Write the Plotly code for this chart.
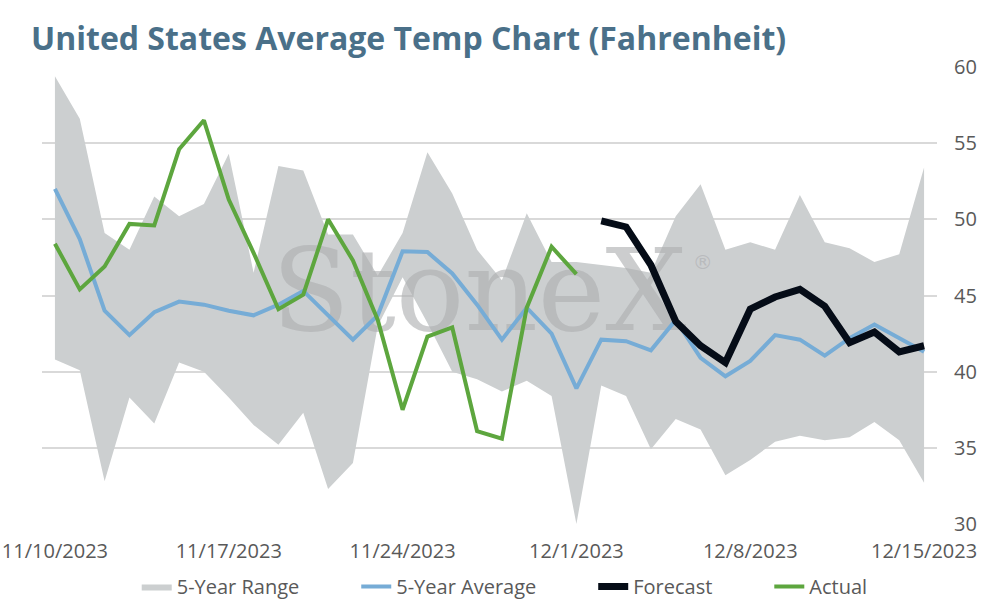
import pandas as pd
import plotly.graph_objects as go

# daily values, 11/10/2023 .. 12/15/2023
dates = pd.date_range("2023-11-10", "2023-12-15", freq="D")

range_high = [59.4, 56.6, 49.1, 48.0, 51.5, 50.2, 51.0, 54.3, 46.5, 53.5,
              53.2, 49.0, 49.0, 46.3, 49.1, 54.4, 51.7, 48.0, 46.0, 50.4,
              47.2, 47.2, 47.0, 46.8, 46.5, 50.2, 52.3, 48.0, 48.5, 48.0,
              51.6, 48.5, 48.1, 47.2, 47.7, 53.4]
range_low = [40.8, 40.1, 32.8, 38.3, 36.6, 40.6, 40.0, 38.3, 36.5, 35.2,
             37.3, 32.3, 34.0, 43.0, 46.2, 43.2, 40.0, 39.5, 38.7, 39.4,
             38.4, 30.0, 39.1, 38.4, 34.9, 36.9, 36.2, 33.2, 34.2, 35.4,
             35.8, 35.5, 35.7, 36.7, 35.5, 32.7]
five_yr_avg = [52.0, 48.7, 44.0, 42.4, 43.9, 44.6, 44.4, 44.0, 43.7, 44.4,
               45.3, 43.7, 42.1, 43.7, 47.9, 47.85, 46.45, 44.4, 42.1, 44.2,
               42.5, 38.9, 42.1, 42.0, 41.4, 43.4, 40.9, 39.7, 40.7, 42.4,
               42.1, 41.05, 42.2, 43.1, 42.2, 41.3]
actual = [48.4, 45.4, 46.9, 49.7, 49.6, 54.6, 56.5, 51.3, 47.8, 44.1,
          45.05, 50.0, 47.3, 43.4, 37.5, 42.3, 42.9, 36.1, 35.6, 44.2,
          48.2, 46.4]
forecast = [49.9, 49.5, 47.0, 43.3, 41.7, 40.6, 44.1, 44.9, 45.4, 44.3,
            41.9, 42.6, 41.3, 41.7]

tick_dates = ["2023-11-10", "2023-11-17", "2023-11-24", "2023-12-01",
              "2023-12-08", "2023-12-15"]
tick_text = ["11/10/2023", "11/17/2023", "11/24/2023", "12/1/2023",
             "12/8/2023", "12/15/2023"]

PAD = "\u00a0" * 10
WM_COLOR = "rgba(172,174,176,0.62)"


def main():
    fig = go.Figure()
    fig.add_trace(go.Scatter(x=dates, y=range_low, mode="lines",
                             line=dict(width=0, color="#cccfd0"),
                             showlegend=False, hoverinfo="skip"))
    fig.add_trace(go.Scatter(x=dates, y=range_high, mode="lines", fill="tonexty",
                             fillcolor="#cccfd0", line=dict(width=0, color="#cccfd0"),
                             name="5-Year Range" + PAD))
    # watermark, sits between the range fill and the lines
    fig.add_trace(go.Scatter(x=["2023-11-27 02:00"], y=[44.6], mode="text",
                             text=["StoneX"], showlegend=False, hoverinfo="skip",
                             textfont=dict(family="DejaVu Serif", size=114, color=WM_COLOR)))
    fig.add_trace(go.Scatter(x=["2023-12-06 02:00"], y=[47.1], mode="text",
                             text=["®"], showlegend=False, hoverinfo="skip",
                             textfont=dict(family="DejaVu Sans", size=20, color=WM_COLOR)))
    fig.add_trace(go.Scatter(x=dates, y=five_yr_avg, mode="lines",
                             line=dict(width=4, color="#76acd6"), name="5-Year Average" + PAD))
    fig.add_trace(go.Scatter(x=dates[len(dates) - len(forecast):], y=forecast, mode="lines",
                             line=dict(width=7, color="#050c17"), name="Forecast" + PAD))
    fig.add_trace(go.Scatter(x=dates[:len(actual)], y=actual, mode="lines",
                             line=dict(width=4, color="#5da63e"), name="Actual"))

    fig.update_layout(
        width=994, height=606,
        template="plotly_white",
        plot_bgcolor="white",
        margin=dict(l=42, r=57, t=67, b=82),
        title=dict(text="<b>United States Average Temp Chart (Fahrenheit)</b>",
                   x=31 / 994, xanchor="left", y=0.936, yanchor="middle",
                   font=dict(family="Open Sans", size=32, color="#4a7089")),
        font=dict(family="Open Sans", size=19, color="#595959"),
        legend=dict(orientation="h", x=0.517, xanchor="center",
                    yref="container", y=0.032, yanchor="middle",
                    font=dict(size=20, color="#595959"), traceorder="normal"),
        xaxis=dict(range=["2023-11-09 11:30", "2023-12-15 12:30"],
                   tickvals=tick_dates, ticktext=tick_text, showgrid=False,
                   showline=False, zeroline=False, ticklabelstandoff=13,
                   ticklabeloverflow="allow", automargin=False,
                   tickfont=dict(size=20)),
        yaxis=dict(range=[30, 60], dtick=5, side="right", showgrid=True,
                   gridcolor="#d9d9d9", gridwidth=1.5, zeroline=False,
                   ticklabelstandoff=16, automargin=False, tickfont=dict(size=20)),
        showlegend=True,
    )
    # page body margin off so the figure sits at the window's corner
    fig.write_html("out.html", config={"displayModeBar": False},
                   post_script="document.body.style.margin='0';")


if __name__ == "__main__":
    main()
